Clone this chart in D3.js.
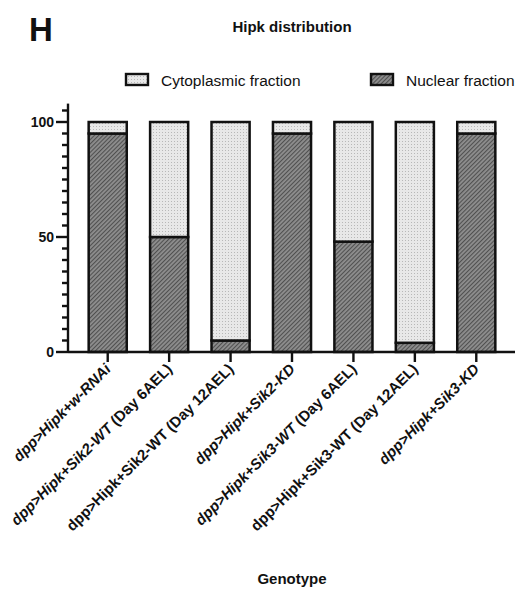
<!DOCTYPE html>
<html>
<head>
<meta charset="utf-8">
<script src="https://cdn.jsdelivr.net/npm/d3@7"></script>
<style>
  body { margin: 0; background: #fff; }
  text { font-family: "Liberation Sans", Arial, sans-serif; fill: #111; }
</style>
</head>
<body>
<svg width="518" height="590"></svg>
<script>
var genotypes = [
  "dpp>Hipk+w-RNAi",
  "dpp>Hipk+Sik2-WT (Day 6AEL)",
  "dpp>Hipk+Sik2-WT (Day 12AEL)",
  "dpp>Hipk+Sik2-KD",
  "dpp>Hipk+Sik3-WT (Day 6AEL)",
  "dpp>Hipk+Sik3-WT (Day 12AEL)",
  "dpp>Hipk+Sik3-KD"
];
var nuclear = [95, 50, 5, 95, 48, 4, 95];
var cytoplasmic = [5, 50, 95, 5, 52, 96, 5];
var yTicks = [0, 50, 100];
var seriesNames = ["Cytoplasmic fraction", "Nuclear fraction"];

var svg = d3.select("svg");

// patterns
var defs = svg.append("defs");
var hatch = defs.append("pattern")
    .attr("id", "hatch").attr("patternUnits", "userSpaceOnUse")
    .attr("width", 3).attr("height", 3)
    .attr("patternTransform", "rotate(45)");
hatch.append("rect").attr("width", 3).attr("height", 3).attr("fill", "#8e8e8e");
hatch.append("rect").attr("width", 1.1).attr("height", 3).attr("fill", "#505050");

var dots = defs.append("pattern")
    .attr("id", "dots").attr("patternUnits", "userSpaceOnUse")
    .attr("width", 3).attr("height", 3);
dots.append("rect").attr("width", 3).attr("height", 3).attr("fill", "#e8e8e8");
dots.append("rect").attr("width", 1).attr("height", 1).attr("fill", "#b8b8b8");

var fills = {"Cytoplasmic fraction": "url(#dots)", "Nuclear fraction": "url(#hatch)"};

var x = d3.scaleBand()
    .domain(genotypes)
    .range([77, 507])
    .paddingInner(0.38)
    .paddingOuter(0.19);

var y = d3.scaleLinear().domain([0, 100]).range([352, 122]);

// stacked data: nuclear at the bottom
var rows = genotypes.map((g, i) => ({
  genotype: g,
  "Nuclear fraction": nuclear[i],
  "Cytoplasmic fraction": cytoplasmic[i]
}));
var stack = d3.stack().keys(["Nuclear fraction", "Cytoplasmic fraction"])(rows);

var axisX = 68;

svg.append("g").selectAll("g")
  .data(stack)
  .enter().append("g")
    .attr("fill", d => fills[d.key])
  .selectAll("rect")
  .data(d => d)
  .enter().append("rect")
    .attr("x", d => x(d.data.genotype))
    .attr("width", x.bandwidth())
    .attr("y", d => y(d[1]))
    .attr("height", d => y(d[0]) - y(d[1]))
    .attr("stroke", "#111")
    .attr("stroke-width", 2.5);

// y axis
var yAxis = svg.append("g").attr("stroke", "#111").attr("stroke-width", 2.4);
yAxis.append("line")
    .attr("x1", axisX).attr("x2", axisX)
    .attr("y1", y(0)).attr("y2", y(108));
yAxis.selectAll(".minor")
  .data(d3.range(0, 106, 5))
  .enter().append("line")
    .attr("x1", d => yTicks.includes(d) ? axisX - 12 : axisX - 6)
    .attr("x2", axisX)
    .attr("y1", d => y(d)).attr("y2", d => y(d));
svg.append("g").selectAll("text")
  .data(yTicks)
  .enter().append("text")
    .attr("x", axisX - 14)
    .attr("y", d => y(d))
    .attr("dy", "0.36em")
    .attr("text-anchor", "end")
    .attr("font-size", 14)
    .attr("font-weight", "bold")
    .text(d => d);

// x axis
var xAxis = svg.append("g").attr("stroke", "#111").attr("stroke-width", 2.4);
xAxis.append("line")
    .attr("x1", axisX).attr("x2", 515)
    .attr("y1", y(0)).attr("y2", y(0));
xAxis.selectAll(".tick")
  .data(genotypes)
  .enter().append("line")
    .attr("x1", d => x(d) + x.bandwidth() / 2)
    .attr("x2", d => x(d) + x.bandwidth() / 2)
    .attr("y1", y(0)).attr("y2", y(0) + 10);

var italicAll = [0, 3, 6], italicPart = [1, 4];
var labels = svg.append("g").selectAll("text")
  .data(genotypes)
  .enter().append("text")
    .attr("transform", d => "translate(" + (x(d) + x.bandwidth() / 2 + 4) + "," + (y(0) + 18) + ") rotate(-45)")
    .attr("text-anchor", "end")
    .attr("font-size", 15)
    .attr("font-weight", "bold");
labels.each(function(d, i) {
  var t = d3.select(this);
  var k = d.indexOf(" (");
  var head = k < 0 ? d : d.slice(0, k), tail = k < 0 ? "" : d.slice(k);
  t.append("tspan")
    .attr("font-style", italicAll.includes(i) || italicPart.includes(i) ? "italic" : "normal")
    .text(head);
  if (tail) t.append("tspan").text(tail);
});

// titles
svg.append("text")
    .attr("x", 29).attr("y", 41)
    .attr("font-size", 33).attr("font-weight", "bold")
    .text("H");
svg.append("text")
    .attr("x", 292).attr("y", 32)
    .attr("text-anchor", "middle")
    .attr("font-size", 15).attr("font-weight", "bold")
    .text("Hipk distribution");
svg.append("text")
    .attr("x", 292).attr("y", 584)
    .attr("text-anchor", "middle")
    .attr("font-size", 15).attr("font-weight", "bold")
    .text("Genotype");

// legend
var legendX = [125, 370];
var legend = svg.append("g").selectAll("g")
  .data(seriesNames)
  .enter().append("g")
    .attr("transform", (d, i) => "translate(" + legendX[i] + ",73)");
legend.append("rect")
    .attr("x", 1).attr("y", 1)
    .attr("width", 22).attr("height", 11)
    .attr("fill", d => fills[d])
    .attr("stroke", "#111").attr("stroke-width", 2.4);
legend.append("text")
    .attr("x", 36).attr("y", 13)
    .attr("font-size", 15.5)
    .text(d => d);
</script>
</body>
</html>
